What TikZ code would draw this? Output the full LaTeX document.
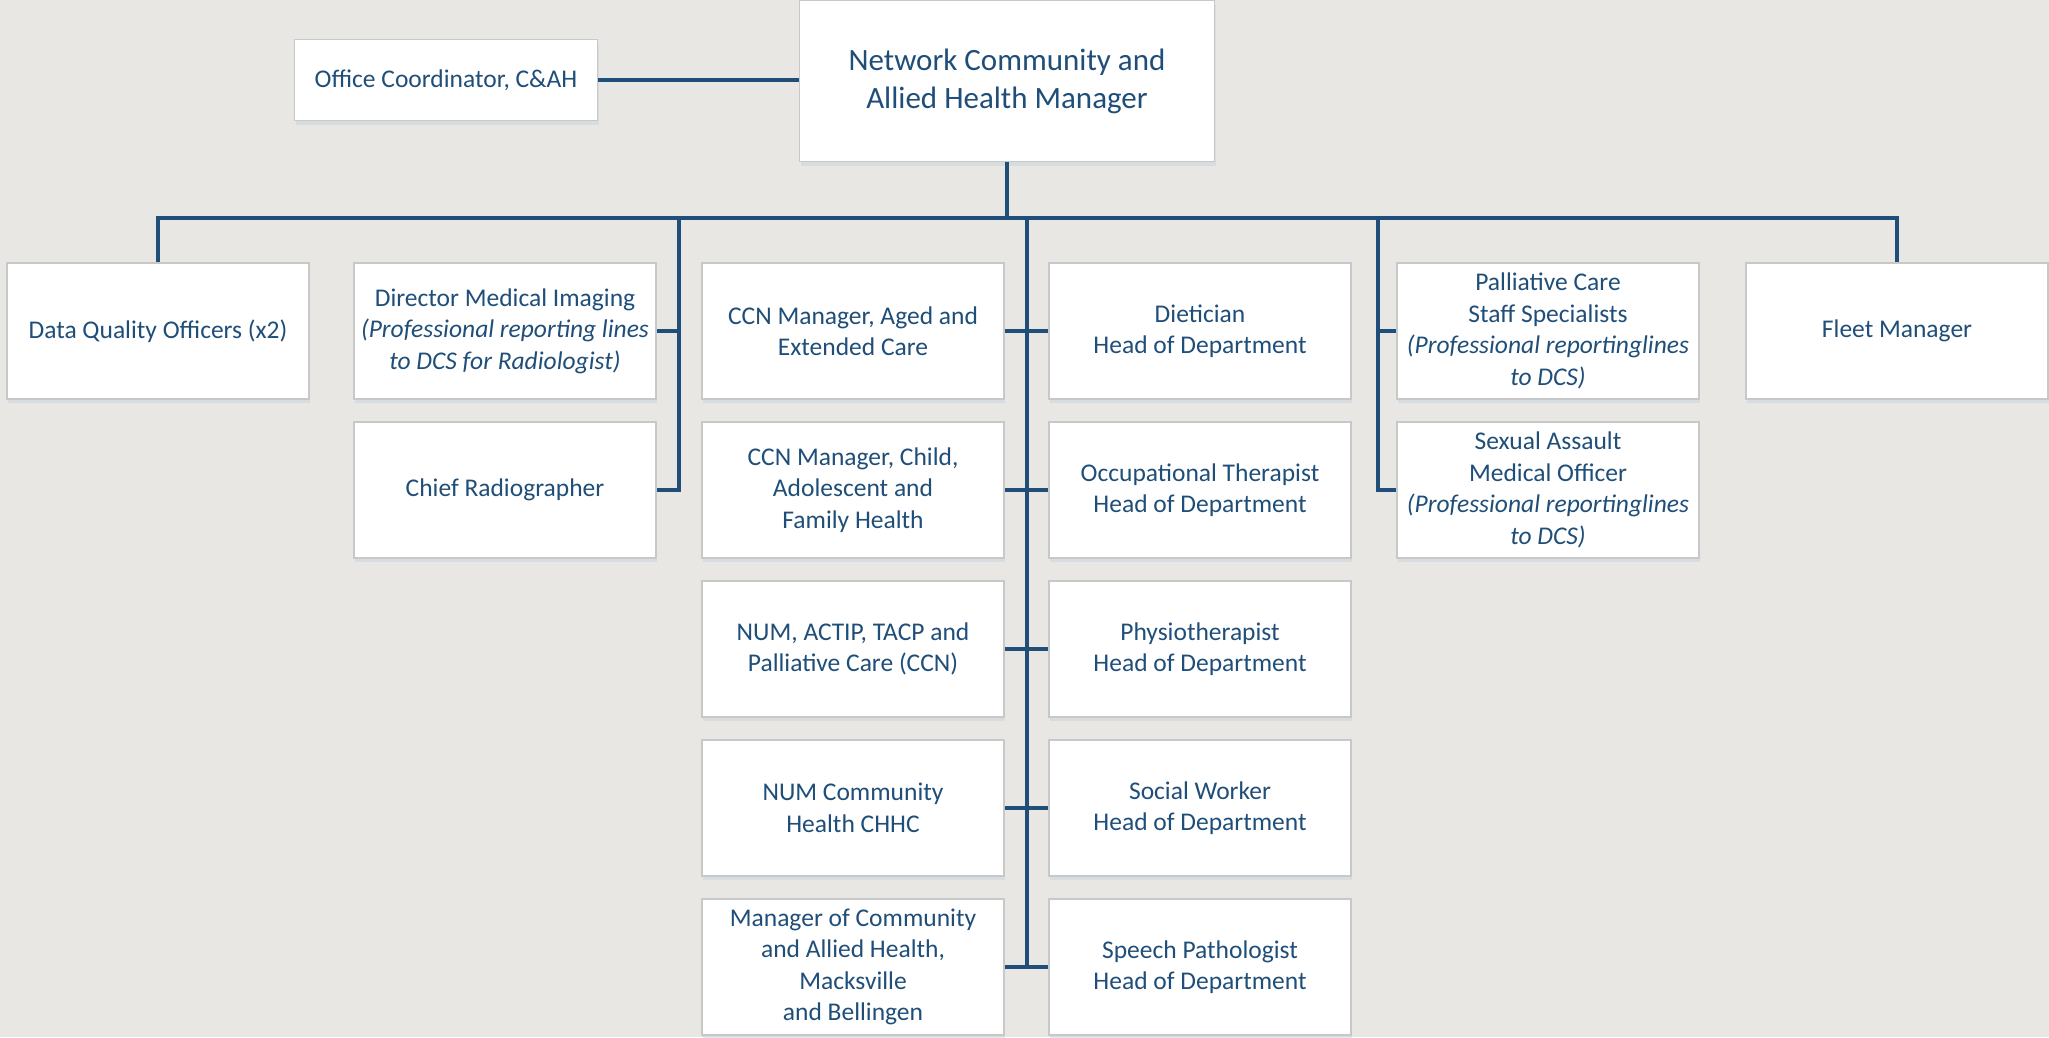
\documentclass[tikz,border=0pt]{standalone}
\usepackage{fontspec}
\setmainfont{Carlito}
\usepackage{xcolor}
\usetikzlibrary{shadows}
\definecolor{navy}{RGB}{31,78,121}
\definecolor{paper}{RGB}{233,231,227}
\definecolor{rim}{RGB}{200,200,200}

\begin{document}
\begin{tikzpicture}[x=1pt, y=-1pt,
    box/.style={draw=rim, line width=1.5pt, fill=white, text=navy,
        minimum width=302pt, minimum height=136pt, align=center,
        inner sep=4pt, font=\fontsize{25.5}{31.5}\selectfont,
        drop shadow={shadow xshift=1pt, shadow yshift=-4pt, fill=navy!25, opacity=0.5}},
    link/.style={draw=navy, line width=3.2pt}]
        % Background
        \fill[paper] (0,0) rectangle (2049,1037);
        \useasboundingbox (0,0) rectangle (2049,1037);

        % Top: manager and office
        \node[box, minimum width=415pt, minimum height=161pt,
            font=\fontsize{31}{38}\selectfont] (mgr) at (1007,81)
            {Network Community and\\Allied Health Manager};
        \node[box, minimum width=303pt, minimum height=81pt] (office) at (446,80)
            {Office Coordinator, C\&AH};

        % Row 1
        \node[box] (dq) at (158,331) {Data Quality Officers (x2)};
        \node[box] (dmi) at (505,331) {Director Medical Imaging\\\textit{(Professional reporting lines}\\\textit{to DCS for Radiologist)}};
        \node[box] (ccnaged) at (853,331) {CCN Manager, Aged and\\Extended Care};
        \node[box] (diet) at (1200,331) {Dietician\\Head of Department};
        \node[box] (pall) at (1548,331) {Palliative Care\\Staff Specialists\\\textit{(Professional reportinglines}\\\textit{to DCS)}};
        \node[box] (fleet) at (1897,331) {Fleet Manager};

        % Row 2
        \node[box] (chief) at (505,490) {Chief Radiographer};
        \node[box] (ccnchild) at (853,490) {CCN Manager, Child,\\Adolescent and\\Family Health};
        \node[box] (ot) at (1200,490) {Occupational Therapist\\Head of Department};
        \node[box] (sexual) at (1548,490) {Sexual Assault\\Medical Officer\\\textit{(Professional reportinglines}\\\textit{to DCS)}};

        % Row 3
        \node[box] (num) at (853,649) {NUM, ACTIP, TACP and\\Palliative Care (CCN)};
        \node[box] (physio) at (1200,649) {Physiotherapist\\Head of Department};

        % Row 4
        \node[box] (numch) at (853,808) {NUM Community\\Health CHHC};
        \node[box] (social) at (1200,808) {Social Worker\\Head of Department};

        % Row 5
        \node[box] (mcah) at (853,967) {Manager of Community\\and Allied Health,\\Macksville\\and Bellingen};
        \node[box] (speech) at (1200,967) {Speech Pathologist\\Head of Department};

        % Bus and spines
        \coordinate (bus) at (0,218);
        \coordinate (lsp) at (679,218);
        \coordinate (csp) at (1027,218);
        \coordinate (rsp) at (1378,218);

        \draw[link] (office.east) -- (office.east -| mgr.west);
        \draw[link] (mgr.south) -- (mgr.south |- bus);
        \draw[link] (dq.north) -- (dq.north |- bus) -- (fleet.north |- bus) -- (fleet.north);

        % Left spine
        \draw[link] (lsp) |- (chief.east);
        \draw[link] (dmi.east) -- (dmi.east -| lsp);

        % Centre spine
        \draw[link] (csp) -- (csp |- speech.west);
        \draw[link] (ccnaged.east) -- (diet.west);
        \draw[link] (ccnchild.east) -- (ot.west);
        \draw[link] (num.east) -- (physio.west);
        \draw[link] (numch.east) -- (social.west);
        \draw[link] (mcah.east) -- (speech.west);

        % Right spine
        \draw[link] (rsp) |- (sexual.west);
        \draw[link] (pall.west) -- (pall.west -| rsp);
\end{tikzpicture}
\end{document}
